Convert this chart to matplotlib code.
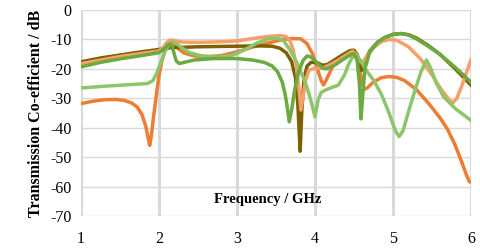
import matplotlib.pyplot as plt

# frequency (GHz) / transmission (dB)
f_do = [1.0, 1.15, 1.3, 1.45, 1.55, 1.65, 1.72, 1.78, 1.83, 1.86, 1.88, 1.9, 1.93, 1.97, 2.0, 2.04,
        2.08, 2.12, 2.15, 2.18, 2.24, 2.32, 2.45, 2.6, 2.8, 3.0, 3.2, 3.4, 3.55, 3.7, 3.82, 3.9,
        3.97, 4.03, 4.08, 4.11, 4.15, 4.22, 4.3, 4.4, 4.48, 4.52, 4.56, 4.6, 4.63, 4.67, 4.75, 4.85,
        4.95, 5.05, 5.15, 5.3, 5.45, 5.6, 5.7, 5.8, 5.88, 5.95, 5.98, 6.0]
db_do = [-31.8, -31, -30.5, -30.4, -30.7, -31.6, -33, -35.5, -39.5, -43.5, -46, -43, -36, -28, -22, -17,
         -13, -10.8, -10.5, -11.3, -13, -14.6, -15.6, -15.9, -15.5, -14.2, -12.6, -11.2, -10.3, -9.7, -9.8, -11.5,
         -15, -20, -24, -25.5, -23.5, -19.5, -17, -15, -13.7, -14.5, -18, -24, -27, -26.5, -24.5, -23,
         -22.6, -22.9, -24, -27, -31.5, -36.5, -40.5, -46, -51.5, -56.5, -58.3, -58.5]

f_lo = [1.0, 1.5, 2.0, 2.06, 2.1, 2.14, 2.2, 2.3, 2.5, 2.8, 3.0, 3.2, 3.4, 3.55, 3.63, 3.68,
        3.72, 3.76, 3.8, 3.82, 3.85, 3.88, 3.92, 4.0, 4.1, 4.2, 4.3, 4.4, 4.48, 4.53, 4.58, 4.62,
        4.68, 4.75, 4.85, 4.95, 5.05, 5.2, 5.35, 5.5, 5.62, 5.72, 5.77, 5.82, 5.88, 5.94, 6.0]
db_lo = [-18.2, -15.8, -13.9, -12.5, -11, -10.2, -10.4, -10.9, -11, -10.8, -10.5, -9.7, -9, -8.7, -9, -10.5,
         -13.5, -19, -28, -34, -29, -24, -20.5, -19.8, -19.8, -18.5, -17, -15.3, -14, -15, -17.5, -17.5,
         -15, -12.8, -10.8, -10, -10.3, -12.5, -16.5, -22, -27, -30.5, -31.5, -30, -26, -21.5, -17]

f_ol = [1.0, 1.25, 1.5, 1.75, 2.0, 2.15, 2.5, 3.0, 3.3, 3.45, 3.55, 3.63, 3.7, 3.75, 3.78, 3.81,
        3.83, 3.86, 3.9, 3.95, 4.02, 4.1, 4.16, 4.25, 4.35, 4.45, 4.5, 4.54, 4.58, 4.6, 4.63, 4.7,
        4.8, 4.9, 5.0, 5.1, 5.2, 5.3, 5.45, 5.6, 5.8, 6.0]
db_ol = [-17.6, -16.3, -15.3, -14.3, -13.4, -12.8, -12.5, -12.3, -12.2, -12.3, -13, -14.5, -17.5, -23, -32, -48,
         -35, -23, -19, -17.8, -17.8, -18.8, -18.5, -17, -15.3, -13.8, -13.7, -15, -18.5, -20.5, -18, -14,
         -11, -9.3, -8.3, -8, -8.4, -9.5, -12, -15, -20, -25.5]

f_g1 = [1.0, 1.25, 1.5, 1.75, 2.0, 2.08, 2.13, 2.16, 2.19, 2.22, 2.26, 2.32, 2.45, 2.7, 3.0, 3.2,
        3.35, 3.45, 3.52, 3.58, 3.62, 3.65, 3.67, 3.7, 3.74, 3.79, 3.85, 3.9, 3.95, 4.03, 4.1, 4.15,
        4.25, 4.35, 4.45, 4.5, 4.54, 4.57, 4.59, 4.61, 4.64, 4.7, 4.8, 4.9, 5.0, 5.1, 5.2, 5.3,
        5.45, 5.6, 5.8, 6.0]
db_g1 = [-19.3, -17.8, -16.6, -15.6, -14.5, -12.8, -11.5, -11.8, -14.5, -17.3, -18.2, -17.8, -17, -16.5, -16.5, -17,
         -17.8, -19, -21, -24.5, -29, -34, -38, -34, -27, -21, -17, -15.6, -16, -18, -19.8, -20,
         -18.8, -17, -15.3, -14.8, -17, -25, -37, -30, -20, -14.5, -11, -9.3, -8.3, -8, -8.5, -9.8,
         -12.3, -15, -19.5, -24.5]

f_g2 = [1.0, 1.3, 1.6, 1.85, 1.92, 1.97, 2.02, 2.07, 2.12, 2.17, 2.22, 2.3, 2.4, 2.55, 2.75, 2.95,
        3.1, 3.25, 3.4, 3.5, 3.6, 3.68, 3.77, 3.85, 3.9, 3.95, 4.0, 4.04, 4.08, 4.15, 4.3, 4.38,
        4.43, 4.48, 4.52, 4.58, 4.67, 4.75, 4.85, 4.95, 5.03, 5.08, 5.13, 5.2, 5.28, 5.36, 5.43, 5.48,
        5.55, 5.65, 5.8, 5.9, 6.0]
db_g2 = [-26.5, -25.9, -25.4, -25, -24, -21.5, -18, -14.5, -12, -11, -11.3, -13, -14.6, -15.6, -16, -15.3,
         -13.5, -11.3, -9.8, -9.5, -10.5, -13.6, -18, -23, -26.5, -31, -36.3, -30.5, -28, -27, -25.5, -22,
         -18.5, -16, -15.3, -17, -21, -23.8, -28.5, -35, -41, -43, -41, -34.5, -27.5, -21, -17, -19.5,
         -24.5, -29.5, -33.5, -35.5, -37.5]

yticks = [0, -10, -20, -30, -40, -50, -60, -70]
xticks = [1, 2, 3, 4, 5, 6]

plt.rcParams['font.family'] = ['Liberation Serif', 'DejaVu Serif']
plt.rcParams['axes.unicode_minus'] = False

fig = plt.figure(figsize=(4.8, 2.5), dpi=100)
ax = fig.add_axes([0.169, 0.136, 0.812, 0.824])

# grid: thick vertical, thin horizontal
for x in xticks:
    ax.axvline(x, color='#d9d9d9', lw=2.2, zorder=0)
for y in yticks:
    ax.axhline(y, color='#d9d9d9', lw=1.0, zorder=0)

lw = 2.5
ax.plot(f_do, db_do, color='#ed7d31', lw=lw, solid_joinstyle='round')
ax.plot(f_ol, db_ol, color='#7f6000', lw=lw, solid_joinstyle='round')
ax.plot(f_lo, db_lo, color='#f4a068', lw=lw, solid_joinstyle='round')
ax.plot(f_g2, db_g2, color='#8cc66a', lw=lw, solid_joinstyle='round')
ax.plot(f_g1, db_g1, color='#6aaa3f', lw=lw, solid_joinstyle='round')

ax.set_xlim(1, 6)
ax.set_ylim(-70, 0)
ax.set_xticks(xticks)
ax.set_yticks(yticks)
ax.tick_params(length=0, labelsize=11.5)
ax.tick_params(axis='x', pad=11)
ax.tick_params(axis='y', pad=7)
for s in ax.spines.values():
    s.set_visible(False)

ax.set_ylabel('Transmission Co-efficient / dB', fontsize=11.5, fontweight='bold', labelpad=4)
ax.text(0.48, 0.078, 'Frequency / GHz', transform=ax.transAxes, ha='center', va='center',
        fontsize=10.5, fontweight='bold')

fig.savefig('out.png', dpi=100)
